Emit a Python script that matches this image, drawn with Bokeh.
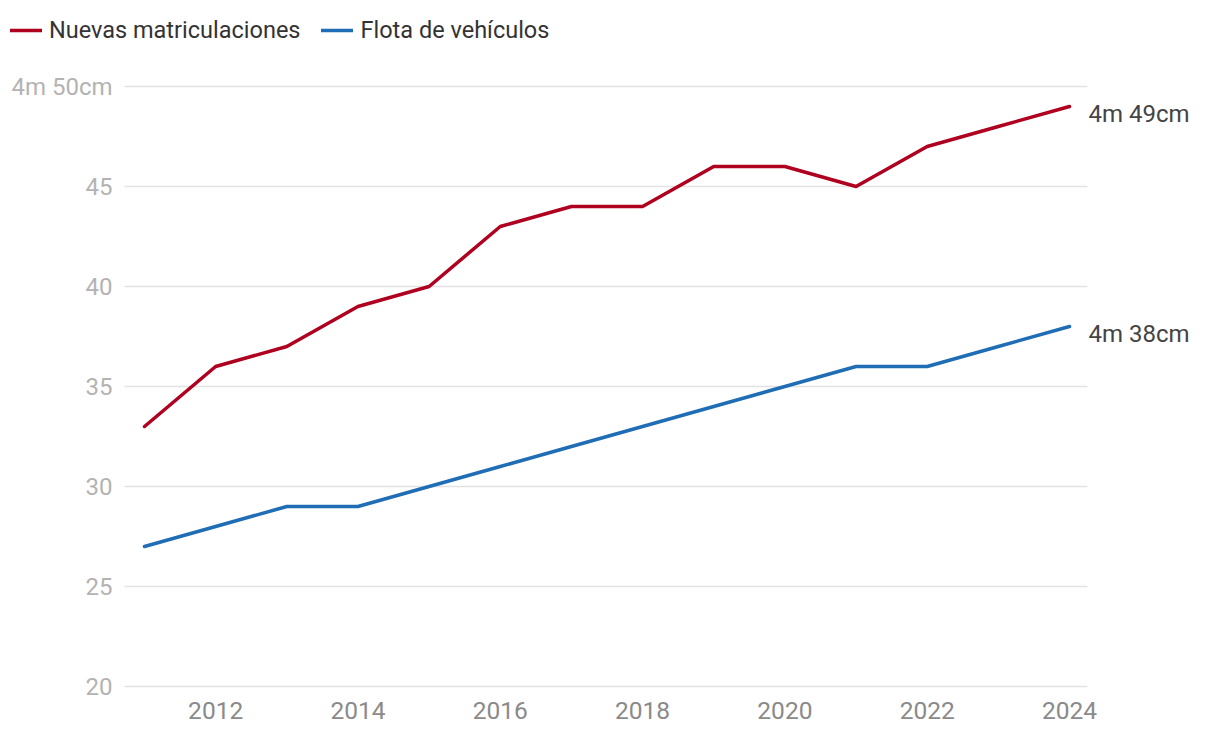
from bokeh.plotting import figure
from bokeh.models import ColumnDataSource, FixedTicker, Legend, LegendItem, Range1d
from bokeh.core.properties import value
from bokeh.embed import file_html
from bokeh.resources import INLINE

# ---- data ----
years = [2011, 2012, 2013, 2014, 2015, 2016, 2017, 2018, 2019, 2020, 2021, 2022, 2023, 2024]
nuevas = [33, 36, 37, 39, 40, 43, 44, 44, 46, 46, 45, 47, 48, 49]
flota = [27, 28, 29, 29, 30, 31, 32, 33, 34, 35, 36, 36, 37, 38]
series_names = ["Nuevas matriculaciones", "Flota de vehículos"]
y_ticks = [20, 25, 30, 35, 40, 45, 50]
y_tick_labels = ["20", "25", "30", "35", "40", "45", "4m 50cm"]
x_ticks = [2012, 2014, 2016, 2018, 2020, 2022, 2024]
end_labels = ["4m 49cm", "4m 38cm"]

# ---- styling / geometry ----
FONT = "Roboto"
RED = "#b0001f"
BLUE = "#1f6db5"
W, H = 1204, 736
BOTTOM = 36
FRAME_H = H - BOTTOM
PPY = 925 / 13.0          # px per year
PPU = 20.0                # px per unit
x0 = 2011 - 144 / PPY
x1 = x0 + W / PPY
y_top = 50 + 86 / PPU
y0 = y_top - FRAME_H / PPU

p = figure(width=W, height=H, output_backend="svg", toolbar_location=None,
           x_range=Range1d(x0, x1), y_range=Range1d(y0, y_top),
           min_border_left=0, min_border_right=0, min_border_top=0,
           min_border_bottom=BOTTOM)
p.outline_line_color = None
p.background_fill_color = "white"
p.border_fill_color = "white"
p.xgrid.visible = False
p.ygrid.visible = False
p.yaxis.visible = False

# gridlines
grid_x0 = [2011 - 20 / PPY for _ in y_ticks]
grid_x1 = [2024 + 18 / PPY for _ in y_ticks]
p.segment(x0=grid_x0, y0=y_ticks, x1=grid_x1, y1=y_ticks, line_color="#e2e2e2", line_width=1.6)

# y labels (right-aligned left of the gridlines)
lab_x = [2011 - 32 / PPY for _ in y_ticks]
ysrc = ColumnDataSource(dict(x=lab_x, y=y_ticks, t=y_tick_labels))
p.text(x="x", y="y", text="t", source=ysrc, text_align="right", text_font_size="24px",
       text_baseline="middle", text_font=value(FONT), text_color="#b3b3b3")

# lines
src = ColumnDataSource(dict(x=years, a=nuevas, b=flota))
r1 = p.line("x", "a", source=src, line_color=RED, line_width=3.5, line_join="round", line_cap="round")
r2 = p.line("x", "b", source=src, line_color=BLUE, line_width=3.5, line_join="round", line_cap="round")

# end labels
esrc = ColumnDataSource(dict(x=[years[-1], years[-1]], y=[nuevas[-1], flota[-1]], t=end_labels))
p.text(x="x", y="y", text="t", source=esrc, x_offset=19, y_offset=7, text_baseline="middle",
       text_font=value(FONT), text_font_size="24px", text_color="#444444")

# x axis
ax = p.xaxis[0]
ax.ticker = FixedTicker(ticks=x_ticks)
ax.axis_line_color = None
ax.major_tick_line_color = None
ax.minor_tick_line_color = None
ax.major_tick_out = 0
ax.major_tick_in = 0
ax.major_label_standoff = 1
ax.major_label_text_font = FONT
ax.major_label_text_font_size = "24.5px"
ax.major_label_text_color = "#8a8a8a"

# legend
legend = Legend(items=[LegendItem(label=series_names[0], renderers=[r1]),
                       LegendItem(label=series_names[1], renderers=[r2])],
                location="top_left", orientation="horizontal",
                margin=10, padding=2, spacing=21, label_standoff=7,
                glyph_width=32, glyph_height=40, label_height=40,
                label_text_font=FONT, label_text_font_size="23.5px",
                label_text_color="#333333", background_fill_alpha=0,
                border_line_color=None)
p.add_layout(legend)

open("out.html", "w").write(file_html(p, INLINE))
